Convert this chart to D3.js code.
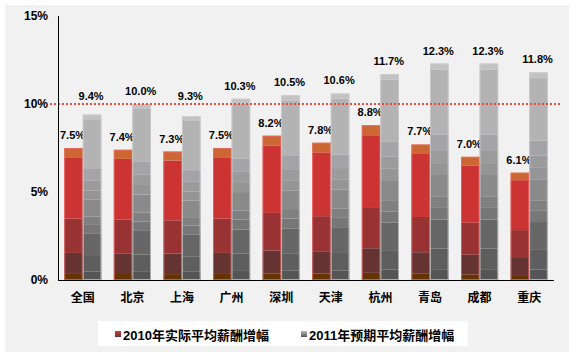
<!DOCTYPE html>
<html lang="zh">
<head>
<meta charset="UTF-8">
<title>薪酬增幅</title>
<script src="https://d3js.org/d3.v7.min.js"></script>
<style>
    body { margin: 0; background: #fff; }
    text { font-family: "Liberation Sans", Arial, "Noto Sans CJK SC", sans-serif; font-weight: bold; fill: #000; }
</style>
</head>
<body>
<div id="chart"></div>
<script>
    var cities = ["全国", "北京", "上海", "广州", "深圳", "天津", "杭州", "青岛", "成都", "重庆"];
    var actual2010 = [7.5, 7.4, 7.3, 7.5, 8.2, 7.8, 8.8, 7.7, 7.0, 6.1];
    var forecast2011 = [9.4, 10.0, 9.3, 10.3, 10.5, 10.6, 11.7, 12.3, 12.3, 11.8];
    var seriesNames = ["2010年实际平均薪酬增幅", "2011年预期平均薪酬增幅"];
    var yTicks = [0, 5, 10, 15];
    var refLine = 10;

    // shading bands inside each bar (fraction of bar height from bottom, colour)
    var redBands = [[0, "#663300"], [0.046, "#663333"], [0.205, "#993333"], [0.465, "#cc3333"], [0.93, "#cc6633"]];
    var greyBands = [[0, "#555555"], [0.05, "#5e5e5e"], [0.145, "#666666"], [0.279, "#777777"], [0.333, "#808080"],
        [0.384, "#8a8a8a"], [0.485, "#959595"], [0.54, "#9b9b9b"], [0.6, "#a3a3a8"], [0.671, "#b3b3b3"], [0.972, "#c2c2c2"]];

    var w = 579, h = 362;
    var svg = d3.select("#chart").append("svg")
        .attr("width", w).attr("height", h);

    svg.append("rect")
        .attr("x", 5).attr("y", 5)
        .attr("width", 564).attr("height", 347)
        .attr("fill", "#f1f1f1");

    var x0 = d3.scaleBand().domain(cities).range([58, 554])
        .paddingInner(0.25).paddingOuter(0.125);
    var x1 = d3.scaleBand().domain([0, 1]).range([0, x0.bandwidth()]);
    var y = d3.scaleLinear().domain([0, 15]).range([280, 16]);

    var data = cities.map(function (c, i) {
        return { city: c, vals: [actual2010[i], forecast2011[i]] };
    });

    var groups = svg.selectAll("g.city")
        .data(data)
        .enter().append("g")
        .attr("class", "city")
        .attr("transform", d => "translate(" + x0(d.city) + ",0)");

    // bars built from stacked shading bands
    [0, 1].forEach(function (s) {
        var bands = s === 0 ? redBands : greyBands;
        groups.each(function (d) {
            var g = d3.select(this);
            var v = d.vals[s];
            bands.forEach(function (b, k) {
                var lo = b[0] * v;
                var hi = (k + 1 < bands.length ? bands[k + 1][0] : 1) * v;
                g.append("rect")
                    .attr("x", x1(s))
                    .attr("y", y(hi))
                    .attr("width", x1.bandwidth())
                    .attr("height", y(lo) - y(hi))
                    .attr("fill", b[1]);
            });
            // soft edges
            g.append("rect")
                .attr("x", x1(s) + 0.5)
                .attr("y", y(v) + 0.5)
                .attr("width", x1.bandwidth() - 1)
                .attr("height", y(0) - y(v) - 1)
                .attr("fill", "none")
                .attr("stroke", s === 0 ? "#ee6f6f" : "#cfcfcf")
                .attr("stroke-opacity", 0.7)
                .attr("stroke-width", 1);
            // label, lifted above the 10% line when it would sit on it
            var ly = y(v) - 9;
            if (ly > y(refLine) - 4 && ly < y(refLine) + 12) ly = y(refLine) - 4;
            g.append("text")
                .attr("x", x1(s) + x1.bandwidth() / 2 - 1)
                .attr("y", ly)
                .attr("text-anchor", "middle")
                .style("font-size", "11px")
                .text(v.toFixed(1) + "%");
        });
    });

    // 10% reference line
    svg.append("line")
        .attr("x1", 50).attr("x2", 561)
        .attr("y1", y(refLine)).attr("y2", y(refLine))
        .attr("stroke", "#f0443c")
        .attr("stroke-width", 2)
        .attr("stroke-dasharray", "2,2");

    // axes
    svg.append("line")
        .attr("x1", 58.5).attr("x2", 58.5)
        .attr("y1", 16).attr("y2", 280)
        .attr("stroke", "#000");
    svg.append("line")
        .attr("x1", 58).attr("x2", 554)
        .attr("y1", 280.5).attr("y2", 280.5)
        .attr("stroke", "#000");

    svg.selectAll("text.ytick")
        .data(yTicks)
        .enter().append("text")
        .attr("class", "ytick")
        .attr("x", 48)
        .attr("y", d => y(d) + 4)
        .attr("text-anchor", "end")
        .style("font-size", "12px")
        .text(d => d + "%");

    svg.selectAll("text.xtick")
        .data(cities)
        .enter().append("text")
        .attr("class", "xtick")
        .attr("x", d => x0(d) + x0.bandwidth() / 2)
        .attr("y", 302)
        .attr("text-anchor", "middle")
        .style("font-size", "12px")
        .text(d => d);

    // legend
    var defs = svg.append("defs");
    var gr = defs.append("linearGradient").attr("id", "lgRed").attr("x1", 0).attr("y1", 1).attr("x2", 0).attr("y2", 0);
    gr.append("stop").attr("offset", "0%").attr("stop-color", "#663333");
    gr.append("stop").attr("offset", "100%").attr("stop-color", "#dd3a3a");
    var gg = defs.append("linearGradient").attr("id", "lgGrey").attr("x1", 0).attr("y1", 1).attr("x2", 0).attr("y2", 0);
    gg.append("stop").attr("offset", "0%").attr("stop-color", "#555");
    gg.append("stop").attr("offset", "100%").attr("stop-color", "#bbb");

    svg.append("rect")
        .attr("x", 98).attr("y", 321)
        .attr("width", 370).attr("height", 25)
        .attr("fill", "#fff");

    var legendX = [115, 301];
    seriesNames.forEach(function (name, i) {
        svg.append("rect")
            .attr("x", legendX[i]).attr("y", 331)
            .attr("width", 6).attr("height", 6)
            .attr("fill", i === 0 ? "url(#lgRed)" : "url(#lgGrey)");
        svg.append("text")
            .attr("x", legendX[i] + 8)
            .attr("y", 339.5)
            .style("font-size", "13px")
            .text(name);
    });
</script>
</body>
</html>
